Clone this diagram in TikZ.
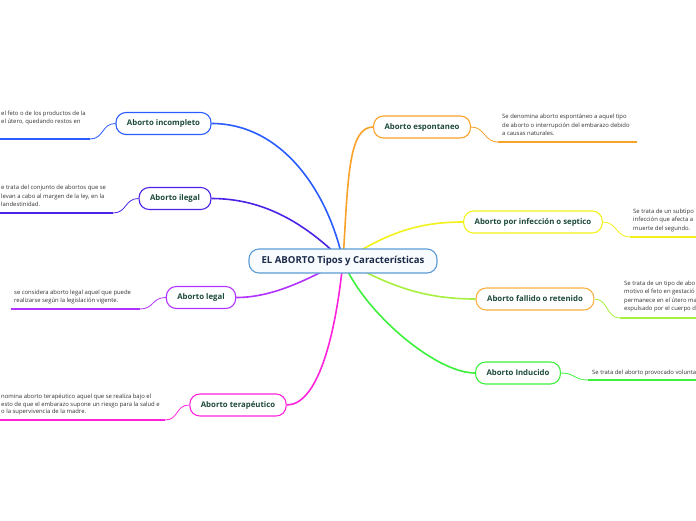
\documentclass[tikz,border=0pt]{standalone}
\usepackage{fontspec}
\setmainfont{Open Sans}
\usepackage{xcolor}
\usepackage{tikz}
\usetikzlibrary{backgrounds}

\definecolor{rootline}{HTML}{5B9BD5}
\definecolor{roottext}{HTML}{1B2A4A}
\definecolor{nodegreen}{HTML}{1D4A3A}
\definecolor{notegray}{HTML}{333333}
\definecolor{cblue}{HTML}{2A5CFF}
\definecolor{cindigo}{HTML}{4B22E6}
\definecolor{cpurple}{HTML}{B233FF}
\definecolor{cmagenta}{HTML}{FF22DD}
\definecolor{corange}{HTML}{F9A22A}
\definecolor{cyellow}{HTML}{F2F21A}
\definecolor{clorange}{HTML}{F9B040}
\definecolor{clime}{HTML}{A8F040}
\definecolor{cgreen}{HTML}{3CF03C}

\begin{document}
\begin{tikzpicture}[x=1pt, y=-1pt,
    topic/.style={draw, rounded corners=10pt, line width=1.1pt, fill=white, minimum height=22pt, inner xsep=11pt, font=\fontsize{7.8}{9}\selectfont\bfseries, text=nodegreen},
    note/.style={anchor=north west, align=left, inner sep=0pt, font=\fontsize{5.9}{8.6}\selectfont, text=notegray},
    link/.style={line width=1.6pt},
    thin link/.style={line width=0.8pt},
    underline/.style={line width=1.8pt},
]
    \useasboundingbox (0,0) rectangle (696,520);
    \clip (0,0) rectangle (696,520);

    % central topic
    \node[topic, draw=rootline, fill=rootline!4, text=roottext, font=\fontsize{9.6}{11}\selectfont\bfseries, minimum width=188pt, minimum height=24pt, inner xsep=6pt] (root) at (343,261) {EL ABORTO Tipos y Características};

    % branches
    \node[topic, draw=cblue] (incompleto) at (163.5,123.5) {Aborto incompleto};
    \node[topic, draw=cindigo] (ilegal) at (175,198.5) {Aborto ilegal};
    \node[topic, draw=cpurple] (legal) at (201,297.5) {Aborto legal};
    \node[topic, draw=cmagenta] (terapeutico) at (238,405) {Aborto terapéutico};
    \node[topic, draw=corange] (espontaneo) at (422,127) {Aborto espontaneo};
    \node[topic, draw=cyellow] (septico) at (533,222) {Aborto por infección o septico};
    \node[topic, draw=clorange] (fallido) at (535,299) {Aborto fallido o retenido};
    \node[topic, draw=cgreen] (inducido) at (518,373) {Aborto Inducido};

    % notes
    \node[note] (nincompleto) at (1,110.5) {el feto o de los productos de la\\el útero, quedando restos en};
    \node[note] (nilegal) at (1,185) {e trata del conjunto de abortos que se\\levan a cabo al margen de la ley, en la\\landestinidad.};
    \node[note] (nlegal) at (14,289.5) {se considera aborto legal aquel que puede\\realizarse según la legislación vigente.};
    \node[note, font=\fontsize{5.9}{7.8}\selectfont] (nterapeutico) at (1,393.5) {nomina aborto terapéutico aquel que se realiza bajo el\\esto de que el embarazo supone un riesgo para la salud e\\o la supervivencia de la madre.};
    \node[note] (nespontaneo) at (502,114) {Se denomina aborto espontáneo a aquel tipo\\de aborto o interrupción del embarazo debido\\a causas naturales.};
    \node[note] (nseptico) at (633,208.5) {Se trata de un subtipo\\infección que afecta a\\muerte del segundo.};
    \node[note] (nfallido) at (624,280.5) {Se trata de un tipo de abo\\motivo el feto en gestació\\permanece en el útero ma\\expulsado por el cuerpo d};
    \node[note] (ninducido) at (592,369.5) {Se trata del aborto provocado volunta};

    % underline ends
    \coordinate (uincompleto) at (90,139);   \coordinate (eincompleto) at (-5,139);
    \coordinate (uilegal) at (113,213);      \coordinate (eilegal) at (-5,213);
    \coordinate (ulegal) at (140,309);       \coordinate (elegal) at (11,309);
    \coordinate (uterapeutico) at (165,420); \coordinate (eterapeutico) at (-5,420);
    \coordinate (uespontaneo) at (498,142);  \coordinate (eespontaneo) at (637,142);
    \coordinate (useptico) at (630,237);     \coordinate (eseptico) at (705,237);
    \coordinate (ufallido) at (620,318);     \coordinate (efallido) at (705,318);
    \coordinate (uinducido) at (588,380);    \coordinate (einducido) at (705,380);

    \begin{scope}[on background layer]
        % root to branches
        \draw[link, cblue] (root.center) .. controls +(-15,-70) and +(70,0) .. (incompleto.east);
        \draw[link, cindigo] (root.center) .. controls +(-40,-40) and +(50,0) .. (ilegal.east);
        \draw[link, cpurple] (root.center) .. controls +(-30,15) and +(40,0) .. (legal.east);
        \draw[link, cmagenta] (root.center) .. controls +(-8,80) and +(30,0) .. (terapeutico.east);
        \draw[link, corange] (root.center) .. controls +(5,-80) and +(-25,0) .. (espontaneo.west);
        \draw[link, cyellow] (root.center) .. controls +(40,-25) and +(-50,0) .. (septico.west);
        \draw[link, clime] (root.center) .. controls +(40,20) and +(-60,0) .. (fallido.west);
        \draw[link, cgreen] (root.center) .. controls +(20,50) and +(-40,0) .. (inducido.west);

        % branches to notes
        \draw[thin link, cblue] (incompleto.west) .. controls +(-14,0) and +(14,0) .. (uincompleto);
        \draw[thin link, cindigo] (ilegal.west) .. controls +(-14,0) and +(14,0) .. (uilegal);
        \draw[thin link, cpurple] (legal.west) .. controls +(-14,0) and +(14,0) .. (ulegal);
        \draw[thin link, cmagenta] (terapeutico.west) .. controls +(-14,0) and +(14,0) .. (uterapeutico);
        \draw[thin link, corange] (espontaneo.east) .. controls +(14,0) and +(-14,0) .. (uespontaneo);
        \draw[thin link, cyellow] (septico.east) .. controls +(14,0) and +(-14,0) .. (useptico);
        \draw[thin link, clime] (fallido.east) .. controls +(14,0) and +(-14,0) .. (ufallido);
        \draw[thin link, cgreen] (inducido.east) .. controls +(14,0) and +(-14,0) .. (uinducido);
    \end{scope}

    % underlines
    \draw[underline, cblue] (uincompleto) -- (eincompleto);
    \draw[underline, cindigo] (uilegal) -- (eilegal);
    \draw[underline, cpurple] (ulegal) -- (elegal);
    \draw[underline, cmagenta] (uterapeutico) -- (eterapeutico);
    \draw[underline, corange] (uespontaneo) -- (eespontaneo);
    \draw[underline, cyellow] (useptico) -- (eseptico);
    \draw[underline, clime] (ufallido) -- (efallido);
    \draw[underline, cgreen] (uinducido) -- (einducido);
\end{tikzpicture}
\end{document}
